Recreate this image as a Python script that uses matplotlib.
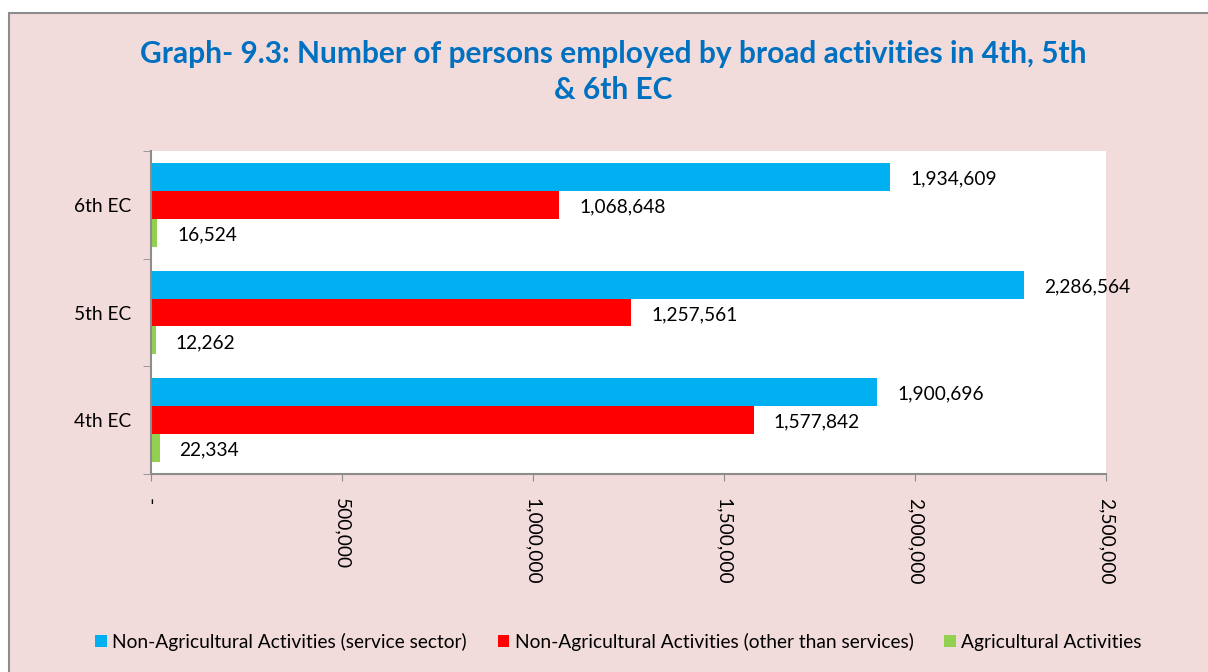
import matplotlib.pyplot as plt
from matplotlib.patches import Rectangle
from matplotlib.ticker import FuncFormatter
import numpy as np

plt.rcParams['font.family'] = ['Lato', 'DejaVu Sans']

# Economic census rounds, bottom to top
censuses = ['4th EC', '5th EC', '6th EC']
service = [1900696, 2286564, 1934609]
non_service = [1577842, 1257561, 1068648]
agri = [22334, 12262, 16524]

series_names = ['Non-Agricultural Activities (service sector)',
                'Non-Agricultural Activities (other than services)',
                'Agricultural Activities']
colors = ['#00B0F0', '#FF0000', '#92D050']

fs = 13.75

fig = plt.figure(figsize=(12.08, 6.72), dpi=100)
fig.patch.set_facecolor('white')

# pink chart panel with grey frame
panel = Rectangle((9 / 1208, -0.02), 1.1, 1 - 13 / 672 + 0.02,
                  transform=fig.transFigure, facecolor='#F2DCDB',
                  edgecolor='#8C8C8C', linewidth=1.5, zorder=-5)
fig.patches.append(panel)

fig.text(0.508, 0.893, 'Graph- 9.3: Number of persons employed by broad activities in 4th, 5th\n& 6th EC',
         ha='center', va='center', fontsize=21.5, fontweight='bold',
         color='#0070C0', linespacing=1.35)

ax = fig.add_axes([151 / 1208, 198 / 672, 955 / 1208, 323 / 672])
ax.set_facecolor('white')

y = np.arange(len(censuses))
h = 0.26
offsets = [h, 0, -h]
for vals, off, col, name in zip([service, non_service, agri], offsets, colors, series_names):
    bars = ax.barh(y + off, vals, height=h, color=col, label=name)
    for b, v in zip(bars, vals):
        ax.annotate(f'{v:,}', (v, b.get_y() + b.get_height() / 2),
                    xytext=(20, -2), textcoords='offset pixels',
                    ha='left', va='center', fontsize=fs, color='black')

ax.set_xlim(0, 2500000)
ax.set_ylim(-0.5, 2.5)
ax.set_xticks(np.arange(0, 2500001, 500000))
ax.xaxis.set_major_formatter(FuncFormatter(lambda v, p: '-' if v == 0 else f'{int(v):,}'))
ax.tick_params(axis='x', labelsize=fs, color='#8C8C8C', length=5, pad=12,
               labelrotation=270)

ax.set_yticks(y)
ax.set_yticklabels(censuses)
ax.set_yticks([-0.5, 0.5, 1.5, 2.5], minor=True)
ax.tick_params(axis='y', which='major', length=0, labelsize=fs, pad=14)
ax.tick_params(axis='y', which='minor', length=6, color='#8C8C8C')

for s in ['top', 'right']:
    ax.spines[s].set_visible(False)
for s in ['left', 'bottom']:
    ax.spines[s].set_color('#8C8C8C')
    ax.spines[s].set_linewidth(1.5)

leg = fig.legend(loc='center', bbox_to_anchor=(0.512, 0.045), ncol=3, frameon=False,
                 fontsize=fs, handlelength=0.6, handleheight=0.6,
                 handletextpad=0.3, columnspacing=1.6)

fig.savefig('out.png', dpi=100, facecolor=fig.get_facecolor())
